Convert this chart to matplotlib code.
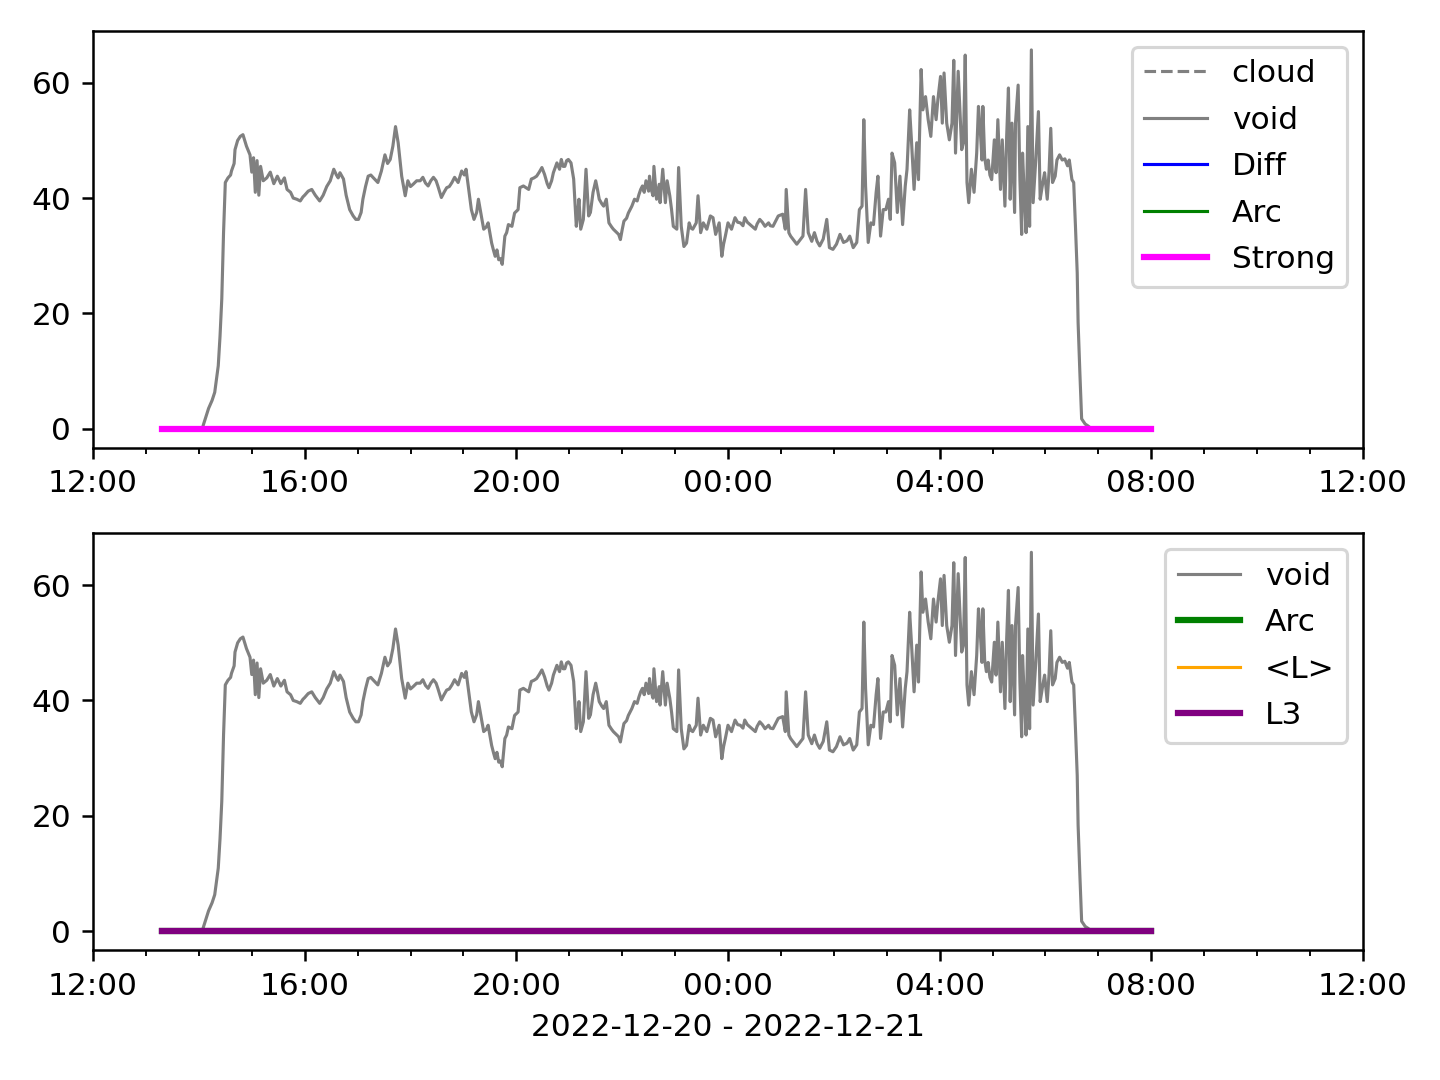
import numpy as np
import matplotlib
matplotlib.use("Agg")
import matplotlib.pyplot as plt
import matplotlib.dates as mdates

# minutes after 2022-12-20 12:00
void_min = [78, 124, 125, 131, 135, 138, 142, 144, 146, 148, 150, 153, 156, 157, 160, 161, 164, 167,
            170, 174, 178, 180, 182, 184, 186, 188, 190, 193, 197, 201, 205, 209, 213, 217, 220, 224,
            227, 231, 235, 238, 240, 244, 248, 252, 257, 261, 265, 269, 273, 276, 278, 280, 284, 287,
            291, 295, 298, 301, 304, 306, 309, 312, 315, 318, 323, 327, 331, 334, 337, 340, 343, 346,
            350, 354, 357, 360, 363, 367, 371, 374, 377, 380, 383, 386, 389, 391, 395, 398, 401, 404,
            407, 410, 414, 418, 421, 423, 425, 429, 432, 435, 437, 439, 441, 443, 446, 448, 450, 452,
            454, 456, 458, 460, 462, 464, 467, 469, 471, 475, 478, 482, 484, 488, 491, 494, 497, 500,
            503, 506, 509, 512, 515, 517, 520, 522, 526, 529, 531, 533, 535, 537, 539, 542, 545, 548,
            550, 551, 553, 556, 559, 562, 564, 567, 570, 572, 574, 577, 579, 582, 585, 588, 590, 594,
            596, 598, 600, 602, 605, 607, 611, 614, 617, 619, 621, 623, 625, 627, 630, 631, 633, 635,
            636, 639, 642, 643, 646, 649, 651, 654, 656, 658, 662, 664, 667, 670, 673, 676, 678, 680,
            684, 686, 689, 692, 696, 700, 703, 706, 710, 713, 715, 717, 720, 724, 728, 731, 734, 737,
            739, 742, 745, 748, 751, 753, 756, 759, 762, 766, 768, 771, 774, 777, 782, 785, 786, 789,
            791, 794, 798, 802, 805, 808, 811, 815, 818, 821, 824, 828, 832, 835, 839, 843, 847, 851,
            855, 858, 862, 866, 869, 872, 874, 876, 879, 882, 885, 888, 890, 893, 896, 899, 902, 904,
            906, 909, 912, 915, 918, 921, 923, 926, 928, 931, 934, 936, 939, 941, 944, 947, 950, 953,
            956, 958, 961, 963, 965, 968, 971, 974, 976, 978, 981, 985, 987, 989, 991, 993, 996, 999,
            1002, 1004, 1006, 1008, 1009, 1011, 1013, 1015, 1017, 1019, 1022, 1024, 1026, 1029, 1031,
            1034, 1036, 1038, 1040, 1042, 1045, 1046, 1049, 1051, 1053, 1054, 1056, 1058, 1060, 1062,
            1064, 1066, 1069, 1072, 1074, 1077, 1079, 1082, 1084, 1086, 1088, 1091, 1093, 1096, 1099,
            1102, 1105, 1107, 1110, 1112, 1114, 1116, 1117, 1119, 1121, 1125, 1128, 1132, 1200]

void = [0, 0, 0.6, 3.5, 4.9, 6.3, 10.9, 16, 22.5, 34, 42.7, 43.5, 44, 44.7, 46, 48.4, 50, 50.7,
        51.0, 49.0, 47.5, 44.5, 47, 41, 46.5, 40.5, 45.5, 43, 43.5, 44.5, 42.5, 43.8, 42.5, 43.5, 41.5, 41,
        40, 39.8, 39.5, 40.2, 40.5, 41.2, 41.5, 40.5, 39.5, 40.5, 42, 43, 45, 44, 43.5, 44.4, 43.3, 40.5,
        38, 36.9, 36.3, 36.3, 37.5, 39.8, 42, 43.8, 44, 43.5, 42.7, 44.7, 47.5, 46, 46.7, 49, 52.4, 49.6,
        43.8, 40.4, 43, 42, 42.4, 43, 43, 43.6, 42.6, 42.1, 43, 43.6, 43, 42.1, 40.1, 41, 41.8, 42,
        42.7, 43.6, 42.7, 44.7, 44, 45, 42.7, 38, 36.3, 37.5, 39.8, 38, 36.3, 34.6, 35, 35.7, 34, 32.2,
        31, 29.9, 31, 29.3, 29.5, 28.5, 33.4, 34, 35.4, 35.1, 37.4, 38, 41.8, 42.1, 41.8, 41.5, 43.3, 43.5,
        43.8, 44.5, 45.3, 44.1, 42.5, 41.8, 43, 44.4, 46.1, 45, 46.7, 45.5, 45.5, 46.5, 46.7, 46.1, 43.3, 35.1,
        38, 39.8, 34.6, 36.3, 45, 36.9, 37.5, 41, 43, 41.5, 39.8, 39, 38.6, 39.8, 35.7, 35, 34.6, 34,
        33.7, 32.8, 34.5, 36, 36.5, 37.4, 38.6, 39.8, 39.5, 40.6, 41.5, 42.1, 41, 43, 41.2, 43.8, 41.5, 40.4,
        45.5, 39.8, 42.4, 39.2, 45, 39.2, 43, 40.4, 38, 35.1, 34.6, 45.3, 35.1, 31.6, 32.2, 35.7, 34.8, 34.6,
        35.7, 40.4, 34, 35.7, 34.6, 36.9, 36.6, 33.7, 35.7, 29.9, 32, 33.4, 35.7, 34.6, 36.6, 35.8, 35.7, 35.2,
        36.6, 35.8, 35.4, 35, 34.6, 35.5, 36.3, 35.8, 35.1, 35.7, 35.2, 35.1, 36, 36.9, 37.2, 34.6, 41.5, 34,
        33.4, 32.8, 32, 32.8, 33.4, 41.5, 34, 32.5, 34, 32.5, 31.7, 32.9, 36.3, 31.4, 31.1, 32, 33.7, 32.3,
        32.6, 33.4, 31.4, 32.3, 38, 38.6, 53.6, 42.1, 32.3, 35.7, 35.4, 41, 43.8, 33.4, 38, 38, 39.8, 36.3,
        47.8, 46.1, 37.5, 43.8, 35.4, 42.1, 45, 55.3, 50.1, 41.5, 49.6, 43.2, 62.3, 55.3, 57.6, 53.6, 50.7, 57.6,
        53.6, 57.1, 61.1, 53, 61.7, 53, 50.1, 53, 63.9, 47.8, 62, 48.4, 49.6, 64.8, 42.7, 39.2, 45, 41,
        47.8, 55.9, 52, 46.6, 55.9, 47.1, 45, 46.6, 44, 43.2, 50.1, 44.4, 53.6, 41.5, 50.1,
        38.6, 50.7, 59.1, 39.8, 53, 37.5, 53, 59.6, 43.2, 33.7, 47.8, 40.4, 34, 52.4, 35.1,
        65.7, 39.2, 46.6, 55, 39.8, 42.7, 44.4, 39.8, 44.4, 52.1, 42.7, 43.8, 46.6, 47.5, 46.6,
        46.8, 45.6, 46.6, 43.2, 42.7, 35.1, 27, 18.4, 9.7, 1.7, 0.8, 0.5, 0, 0]

# the other series stay at zero over the whole run (13:18 -> 08:00)
flat_min = [78, 1200]
cloud = [0, 0]
diff = [0, 0]
arc = [0, 0]
strong = [0, 0]
l_mean = [0, 0]
l3 = [0, 0]

t0 = np.datetime64("2022-12-20T12:00")
t_void = t0 + np.array(void_min).astype("timedelta64[m]")
t_flat = t0 + np.array(flat_min).astype("timedelta64[m]")

fig, (ax1, ax2) = plt.subplots(2, 1, figsize=(6.4, 4.8), dpi=225)

ax1.plot(t_flat, cloud, "--", color="grey", lw=1, label="cloud")
ax1.plot(t_void, void, color="grey", lw=1, label="void")
ax1.plot(t_flat, diff, color="blue", lw=1, label="Diff")
ax1.plot(t_flat, arc, color="green", lw=1, label="Arc")
ax1.plot(t_flat, strong, color="magenta", lw=2, label="Strong")
ax1.legend(loc="upper right", labelspacing=0.56)

ax2.plot(t_void, void, color="grey", lw=1, label="void")
ax2.plot(t_flat, arc, color="green", lw=2, label="Arc")
ax2.plot(t_flat, l_mean, color="orange", lw=1, label="<L>")
ax2.plot(t_flat, l3, color="purple", lw=2, label="L3")
ax2.legend(loc="upper right", labelspacing=0.56)
ax2.set_xlabel("2022-12-20 - 2022-12-21")

for ax in (ax1, ax2):
    ax.set_xlim(np.datetime64("2022-12-20T12:00"), np.datetime64("2022-12-21T12:00"))
    ax.xaxis.set_major_locator(mdates.HourLocator(byhour=range(0, 24, 4)))
    ax.xaxis.set_minor_locator(mdates.HourLocator())
    ax.xaxis.set_major_formatter(mdates.DateFormatter("%H:%M"))

fig.subplots_adjust(left=0.0646, right=0.9465, top=0.9713, bottom=0.1204, hspace=0.206)
fig.savefig("out.png")
